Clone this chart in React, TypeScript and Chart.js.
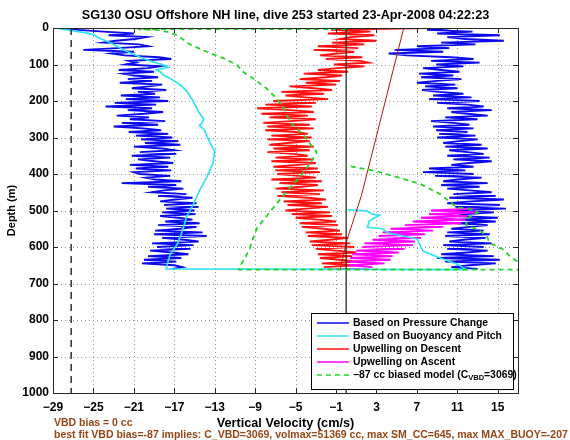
import React, { useEffect, useRef } from 'react';
import { Chart, registerables } from 'chart.js';

Chart.register(...registerables);

const FONT = '"Liberation Sans", Arial, Helvetica, sans-serif';

const TITLE = 'SG130 OSU Offshore NH line, dive 253 started 23-Apr-2008 04:22:23';
const X_TITLE = 'Vertical Velocity (cm/s)';
const Y_TITLE = 'Depth (m)';
const NOTE_1 = 'VBD bias = 0 cc';
const NOTE_2 = 'best fit VBD bias=-87 implies: C_VBD=3069, volmax=51369 cc, max SM_CC=645, max MAX_BUOY=-207';

const X_TICKS = [-29, -25, -21, -17, -13, -9, -5, -1, 3, 7, 11, 15];
const Y_TICKS = [0, 100, 200, 300, 400, 500, 600, 700, 800, 900, 1000];

const LEGEND_LABELS = [
  'Based on Pressure Change',
  'Based on Buoyancy and Pitch',
  'Upwelling on Descent',
  'Upwelling on Ascent',
  '\u221287 cc biased model (C',
];
const LEGEND_SUB = 'VBD';
const LEGEND_TAIL = '=3069)';

// depth grid of the pressure-change / upwelling profiles (m)
const DEPTHS = [
  0, 5, 10, 15, 20, 25, 30, 35, 40, 45, 50, 55, 60, 65, 70, 75, 80, 85, 90, 95,
  100, 105, 110, 115, 120, 125, 130, 135, 140, 145, 150, 155, 160, 165, 170, 175, 180, 185, 190, 195,
  200, 205, 210, 215, 220, 225, 230, 235, 240, 245, 250, 255, 260, 265, 270, 275, 280, 285, 290, 295,
  300, 305, 310, 315, 320, 325, 330, 335, 340, 345, 350, 355, 360, 365, 370, 375, 380, 385, 390, 395,
  400, 405, 410, 415, 420, 425, 430, 435, 440, 445, 450, 455, 460, 465, 470, 475, 480, 485, 490, 495,
  500, 505, 510, 515, 520, 525, 530, 535, 540, 545, 550, 555, 560, 565, 570, 575, 580, 585, 590, 595,
  600, 605, 610, 615, 620, 625, 630, 635, 640, 645, 650, 655, 660,
];

// Based on Pressure Change, descent (cm/s)
const BLUE_DESCENT = [
  -28.0, -26.5, -24.0, -21.0, -23.5, -19.8, -20.9, -22.8, -24.0, -20.5, -19.6, -22.6, -26.0, -21.0, -23.2, -21.9, -18.5, -17.3, -21.5, -20.8,
  -21.8, -18.4, -19.6, -22.5, -19.0, -22.0, -21.0, -18.6, -21.6, -19.2, -22.4, -18.2, -19.5, -21.2, -17.8, -20.6, -18.9, -22.3, -18.4, -21.8,
  -17.6, -22.9, -18.8, -23.8, -19.2, -21.6, -18.1, -20.0, -22.7, -19.5, -21.4, -17.9, -22.2, -18.6, -23.0, -20.1, -18.3, -21.5, -17.6, -20.8,
  -17.2, -20.3, -16.6, -19.9, -16.4, -21.0, -18.2, -17.0, -20.4, -16.8, -21.2, -17.4, -20.6, -19.0, -17.1, -21.4, -17.6, -20.8, -17.3, -21.0,
  -20.4, -17.4, -19.8, -18.9, -16.3, -22.2, -16.8, -19.6, -16.1, -18.0, -19.2, -15.8, -18.6, -15.2, -16.9, -18.4, -14.8, -18.0, -14.6, -17.8,
  -15.0, -18.2, -14.9, -18.4, -16.6, -15.2, -17.9, -14.5, -18.6, -14.8, -16.4, -18.9, -14.2, -19.0, -13.8, -18.2, -16.0, -14.6, -19.2, -15.1,
  -18.7, -15.4, -19.4, -17.2, -15.6, -19.6, -16.3, -20.0, -16.8, -20.2, -17.0, -16.2, -17.2,
];

// Based on Pressure Change, ascent (cm/s)
const BLUE_ASCENT = [
  10.5, 8.0, 12.5, 9.0, 15.2, 10.0, 11.8, 15.6, 9.4, 12.8, 7.0, 10.2, 4.8, 9.6, 4.2, 6.0, 10.4, 12.6, 8.4, 13.2,
  8.9, 11.6, 7.6, 9.4, 11.2, 7.2, 10.6, 7.4, 11.4, 9.0, 7.0, 10.8, 7.8, 11.0, 7.5, 9.2, 11.6, 8.6, 12.4, 8.2,
  13.2, 9.0, 12.0, 13.6, 10.0, 14.4, 10.4, 12.0, 14.0, 9.8, 13.0, 8.4, 10.6, 12.2, 8.6, 12.6, 8.9, 12.0, 9.2, 12.8,
  9.0, 13.0, 11.2, 9.6, 13.4, 9.8, 14.0, 10.2, 12.0, 13.6, 10.0, 14.2, 10.6, 14.4, 12.2, 10.4, 12.6, 8.2, 11.8, 7.6,
  12.6, 8.8, 13.4, 11.0, 9.6, 14.0, 9.4, 13.2, 10.0, 12.2, 14.4, 10.6, 14.8, 10.2, 15.6, 12.4, 10.0, 15.2, 10.8, 15.8,
  10.4, 14.6, 12.0, 10.8, 15.0, 11.2, 14.8, 11.0, 14.0, 12.2, 10.4, 13.6, 10.0, 14.2, 9.8, 13.8, 11.6, 10.2, 14.4, 9.6,
  13.6, 10.0, 14.0, 12.0, 9.4, 14.6, 9.0, 15.2, 9.8, 14.8, 12.2, 10.4, 13.0,
];

// Upwelling on Descent (cm/s)
const RED_DESCENT = [
  8.0, -1.5, 2.4, -1.8, 2.8, 0.4, -0.6, 3.0, -1.4, 1.8, -2.8, 1.2, -3.2, 0.8, -0.9, -2.6, 1.6, -2.0, 1.4, 2.2,
  -1.2, 1.8, -0.8, -2.8, 0.2, -4.2, -0.4, -2.0, -4.6, -0.6, -4.0, -1.0, -5.6, -3.2, -1.4, -6.4, -2.2, -6.0, -4.0, -1.8,
  -7.2, -3.0, -8.0, -3.4, -8.8, -5.6, -3.2, -8.4, -3.8, -7.6, -3.0, -5.5, -8.2, -3.6, -7.8, -3.2, -8.0, -5.0, -3.8, -7.4,
  -3.4, -7.8, -3.6, -5.8, -7.6, -3.2, -7.2, -3.6, -7.8, -5.2, -3.8, -7.0, -3.2, -7.4, -3.0, -4.8, -7.2, -2.8, -7.0, -2.6,
  -6.8, -4.6, -3.0, -7.4, -2.4, -6.6, -2.8, -4.4, -7.0, -2.2, -6.4, -2.6, -6.8, -3.8, -2.0, -6.2, -2.4, -5.8, -1.8, -4.0,
  -6.0, -1.6, -5.4, -1.4, -5.0, -2.8, -1.0, -4.6, -0.8, -4.4, -2.2, -0.6, -4.0, -0.4, -3.8, 0.2, -1.6, -3.6, 0.4, -3.4,
  0.8, -3.0, -1.0, 1.0, -2.8, 0.6, -2.6, -0.6, 1.2, -2.4, 1.0, -2.2, 1.0,
];

// Upwelling on Ascent
const MAGENTA_DEPTHS = [
  495, 500, 505, 510, 515, 520, 525, 530, 535, 540, 545, 550, 555, 560, 565, 570, 575,
  580, 585, 590, 595, 600, 605, 610, 615, 620, 625, 630, 635, 640, 645, 650, 655, 660,
];
const MAGENTA_ASCENT = [
  12.6, 8.4, 13.0, 8.2, 12.0, 7.4, 11.8, 6.6, 11.4, 5.8, 9.6, 4.4, 8.6, 3.6, 7.8, 3.2, 7.4,
  2.6, 6.8, 1.8, 6.6, 1.6, 5.8, 1.0, 5.2, 0.6, 4.6, 0.4, 4.4, 0.2, 3.8, 0.2, 2.6, 0.4,
];

// Based on Buoyancy and Pitch (descent, bottom, ascent)
const CYAN_DEPTHS = [
  2, 6, 12, 18, 28, 37, 48, 60, 70, 82, 92, 101, 108, 115, 120, 130, 138, 156, 175, 202,
  230, 248, 258, 267, 280, 294, 330, 335, 372, 409, 445, 482, 519, 556, 592, 620, 647, 660,
  662, 647, 630, 611, 578, 561, 550, 546, 528, 513, 510, 501, 498,
];
const CYAN_VEL = [
  -28.4, -27.5, -26.0, -25.0, -24.4, -23.6, -22.8, -22.0, -21.2, -20.2, -19.2, -18.1, -17.6, -18.8, -18.4, -18.0, -17.4, -16.4, -15.7, -15.1,
  -14.6, -14.1, -14.2, -14.5, -14.0, -13.8, -13.2, -13.0, -13.2, -13.8, -14.5, -15.1, -15.8, -16.2, -16.7, -17.4, -17.7, -17.8,
  11.9, 11.0, 9.3, 7.6, 7.0, 4.1, 3.6, 2.1, 2.3, 3.3, 2.6, 2.0, 0.15,
];

// -87 cc biased model
const GREEN_DEPTHS = [
  3, 3, 6, 12, 20, 46, 65, 82, 101, 120, 138, 165, 192, 220, 239, 258, 267, 294, 330, 340,
  372, 409, 445, 482, 520, 547, 575, 602, 630, 653, 662, 662, 650, 639, 625, 606, 589, 569, 550, 542,
  523, 505, 495, 492, 455, 427, 405, 390, 377,
];
const GREEN_VEL = [
  0, -20.6, -18.5, -17.5, -16.7, -15.4, -13.8, -12.2, -10.8, -10.2, -9.2, -7.9, -6.9, -6.2, -5.9, -5.5, -5.2, -4.2, -3.2, -2.9,
  -3.6, -4.6, -5.8, -6.9, -8.0, -8.8, -9.2, -9.5, -10.0, -10.5, -10.6, 19.5, 18.0, 16.9, 16.2, 15.5, 14.2, 13.9, 12.9, 11.9,
  11.9, 13.0, 12.2, 11.0, 9.3, 7.3, 4.6, 2.6, 0,
];

// thin dark-red trend line
const TREND_DEPTHS = [0, 340, 460, 579, 662];
const TREND_VEL = [5.7, 2.6, 1.5, 0.1, -0.6];

// reference lines
const REF_DEPTHS = [0, 1000];
const DASHED_REF_VEL = [-27.2, -27.2];
const ZERO_VEL = [0, 0];

const COLORS = {
  blue: 'rgb(10,10,235)',
  cyan: 'rgb(48,226,242)',
  red: 'rgb(255,16,16)',
  magenta: 'rgb(255,0,255)',
  green: 'rgb(40,210,40)',
  trend: 'rgb(190,20,20)',
  zero: 'rgb(16,32,16)',
  dashed: 'rgb(60,60,60)',
  note: 'rgb(150,70,20)',
};

const pts = (vel: number[], dep: number[]) => vel.map((v, i) => ({ x: v, y: dep[i] }));
const fmt = (v: number) => (v < 0 ? '\u2212' + Math.abs(v) : String(v));

const decor = {
  id: 'decor',
  beforeDatasetsDraw(chart: any) {
    const { ctx, chartArea: a, scales } = chart;
    const x = scales.x;
    const y = scales.y;
    ctx.save();
    ctx.strokeStyle = 'rgb(150,150,150)';
    ctx.lineWidth = 1;
    ctx.setLineDash([1, 3]);
    X_TICKS.forEach((v) => {
      const px = Math.round(x.getPixelForValue(v)) + 0.5;
      if (px <= a.left + 1 || px >= a.right - 1) return;
      ctx.beginPath();
      ctx.moveTo(px, a.top);
      ctx.lineTo(px, a.bottom);
      ctx.stroke();
    });
    Y_TICKS.forEach((v) => {
      const py = Math.round(y.getPixelForValue(v)) + 0.5;
      if (py <= a.top + 1 || py >= a.bottom - 1) return;
      ctx.beginPath();
      ctx.moveTo(a.left, py);
      ctx.lineTo(a.right, py);
      ctx.stroke();
    });
    ctx.restore();
  },
  afterDatasetsDraw(chart: any) {
    const { ctx, chartArea: a, scales } = chart;
    const x = scales.x;
    const y = scales.y;
    ctx.save();
    ctx.strokeStyle = 'rgb(40,40,40)';
    ctx.lineWidth = 1;
    ctx.setLineDash([]);
    ctx.strokeRect(Math.round(a.left) + 0.5, Math.round(a.top) + 0.5, Math.round(a.right - a.left), Math.round(a.bottom - a.top));
    const tl = 5;
    X_TICKS.forEach((v) => {
      const px = Math.round(x.getPixelForValue(v)) + 0.5;
      ctx.beginPath();
      ctx.moveTo(px, a.bottom);
      ctx.lineTo(px, a.bottom - tl);
      ctx.moveTo(px, a.top);
      ctx.lineTo(px, a.top + tl);
      ctx.stroke();
    });
    Y_TICKS.forEach((v) => {
      const py = Math.round(y.getPixelForValue(v)) + 0.5;
      ctx.beginPath();
      ctx.moveTo(a.left, py);
      ctx.lineTo(a.left + tl, py);
      ctx.moveTo(a.right, py);
      ctx.lineTo(a.right - tl, py);
      ctx.stroke();
    });
    // legend
    const L = { left: 311, top: 313, right: 513, bottom: 389 };
    ctx.fillStyle = '#fff';
    ctx.fillRect(L.left, L.top, L.right - L.left, L.bottom - L.top);
    ctx.strokeStyle = '#000';
    ctx.lineWidth = 1;
    ctx.strokeRect(L.left + 0.5, L.top + 0.5, L.right - L.left, L.bottom - L.top);
    const rowColors = [COLORS.blue, COLORS.cyan, COLORS.red, COLORS.magenta, COLORS.green];
    const rowY = [323, 336, 349, 362, 375];
    ctx.textBaseline = 'middle';
    ctx.textAlign = 'left';
    LEGEND_LABELS.forEach((label, i) => {
      const ry = rowY[i];
      ctx.save();
      ctx.strokeStyle = rowColors[i];
      ctx.lineWidth = 1.5;
      ctx.setLineDash(i === 4 ? [5, 4] : []);
      ctx.beginPath();
      ctx.moveTo(317, ry);
      ctx.lineTo(349, ry);
      ctx.stroke();
      ctx.restore();
      ctx.fillStyle = '#000';
      ctx.font = `bold 10.4px ${FONT}`;
      ctx.fillText(label, 353, ry);
      if (i === 4) {
        let tx = 353 + ctx.measureText(label).width;
        ctx.font = `bold 7.5px ${FONT}`;
        ctx.fillText(LEGEND_SUB, tx, ry + 3);
        tx += ctx.measureText(LEGEND_SUB).width;
        ctx.font = `bold 10.4px ${FONT}`;
        ctx.fillText(LEGEND_TAIL, tx, ry);
      }
    });
    ctx.restore();
  },
  afterDraw(chart: any) {
    const { ctx, chartArea: a } = chart;
    const cx = (a.left + a.right) / 2;
    ctx.save();
    ctx.fillStyle = '#000';
    ctx.textBaseline = 'middle';
    ctx.textAlign = 'center';
    ctx.font = `bold 12.7px ${FONT}`;
    ctx.fillText(TITLE, cx, 15);
    ctx.fillText(X_TITLE, cx, 423);
    ctx.save();
    ctx.translate(12, (a.top + a.bottom) / 2);
    ctx.rotate(-Math.PI / 2);
    ctx.font = `bold 11px ${FONT}`;
    ctx.fillText(Y_TITLE, 0, 0);
    ctx.restore();
    ctx.textAlign = 'left';
    ctx.fillStyle = COLORS.note;
    ctx.font = `bold 10.5px ${FONT}`;
    ctx.fillText(NOTE_1, 54, 423);
    ctx.fillText(NOTE_2, 54, 435);
    ctx.restore();
  },
};

export default function App() {
  const ref = useRef<HTMLCanvasElement>(null);
  useEffect(() => {
    document.body.style.margin = '0';
    const canvas = ref.current;
    if (!canvas) return;
    const line = (data: any[], color: string, width: number, order: number, dash: number[] = []) => ({
      data,
      showLine: true,
      borderColor: color,
      backgroundColor: color,
      borderWidth: width,
      borderDash: dash,
      pointRadius: 0,
      pointHoverRadius: 0,
      fill: false,
      tension: 0,
      order,
      clip: 0,
    });
    const chart = new Chart(canvas, {
      type: 'scatter',
      data: {
        datasets: [
          line(pts(BLUE_DESCENT, DEPTHS), COLORS.blue, 1.9, 8),
          line(pts(BLUE_ASCENT, DEPTHS), COLORS.blue, 1.9, 8),
          line(pts(RED_DESCENT, DEPTHS), COLORS.red, 1.9, 7),
          line(pts(MAGENTA_ASCENT, MAGENTA_DEPTHS), COLORS.magenta, 1.9, 6),
          line(pts(CYAN_VEL, CYAN_DEPTHS), COLORS.cyan, 1.7, 5),
          line(pts(TREND_VEL, TREND_DEPTHS), COLORS.trend, 1, 4),
          line(pts(ZERO_VEL, REF_DEPTHS), COLORS.zero, 1.2, 3),
          line(pts(DASHED_REF_VEL, REF_DEPTHS), COLORS.dashed, 1.6, 2, [7, 5]),
          line(pts(GREEN_VEL, GREEN_DEPTHS), COLORS.green, 1.8, 1, [5, 4]),
        ] as any,
      },
      options: {
        responsive: false,
        animation: false,
        devicePixelRatio: 1,
        events: [],
        layout: { padding: { top: 28, right: 52, bottom: 0, left: 0 } },
        plugins: {
          legend: { display: false },
          tooltip: { enabled: false },
          title: { display: false },
        },
        scales: {
          x: {
            type: 'linear',
            min: -29,
            max: 17,
            afterBuildTicks: (s: any) => {
              s.ticks = X_TICKS.map((v) => ({ value: v }));
            },
            afterFit: (s: any) => {
              s.height = 47;
            },
            grid: { display: false, drawTicks: false },
            border: { display: false },
            ticks: {
              font: { family: FONT, size: 12, weight: 'bold' },
              color: '#000',
              padding: 7,
              maxRotation: 0,
              autoSkip: false,
              callback: (v: any) => fmt(Number(v)),
            },
          },
          y: {
            type: 'linear',
            reverse: true,
            min: 0,
            max: 1000,
            afterBuildTicks: (s: any) => {
              s.ticks = Y_TICKS.map((v) => ({ value: v }));
            },
            afterFit: (s: any) => {
              s.width = 53;
            },
            grid: { display: false, drawTicks: false },
            border: { display: false },
            ticks: {
              font: { family: FONT, size: 12, weight: 'bold' },
              color: '#000',
              padding: 4,
              autoSkip: false,
              callback: (v: any) => String(v),
            },
          },
        },
      } as any,
      plugins: [decor],
    });
    return () => chart.destroy();
  }, []);
  return <canvas ref={ref} width={570} height={440} style={{ display: 'block' }} />;
}
